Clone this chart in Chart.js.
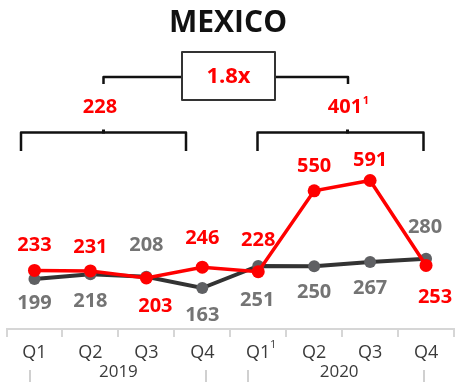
<!DOCTYPE html>
<html>
<head>
<meta charset="utf-8">
<script src="https://cdn.jsdelivr.net/npm/chart.js@4/dist/chart.umd.min.js"></script>
<style>
  html, body { margin: 0; padding: 0; background: #ffffff; }
  canvas { display: block; }
</style>
</head>
<body>
<canvas id="c" width="461" height="382"></canvas>
<script>
// Quarterly figures, Mexico
const quarters = ['Q1', 'Q2', 'Q3', 'Q4', 'Q1', 'Q2', 'Q3', 'Q4'];
const years = ['2019', '2020'];
const current = [233, 231, 203, 246, 228, 550, 591, 253];
const previous = [199, 218, 208, 163, 251, 250, 267, 280];
const avg2019 = '228';
const avg2020 = '401';
const growth = '1.8x';

// Where each value label sits relative to its point: [dx, dy]
const currentLabelOffset = [[0, -25], [0, -24], [9, 28], [0, -29], [0, -31], [0, -25], [0, -20], [9, 32]];
const previousLabelOffset = [[0, 24], [0, 27], [0, -31], [0, 27], [-1, 34], [0, 26], [0, 26], [-1, -31]];

const RED = '#ff0000';
const DARK = '#333333';
const GREY_PT = '#5f6063';
const GREY_TXT = '#747474';
const FONT = '"Open Sans", "Noto Sans", sans-serif';

const valueLabels = {
  id: 'valueLabels',
  afterDatasetsDraw(chart) {
    const ctx = chart.ctx;
    ctx.save();
    ctx.textAlign = 'center';
    ctx.textBaseline = 'middle';
    ctx.font = 'bold 20px ' + FONT;
    const sets = [
      { idx: 0, values: previous, offs: previousLabelOffset, color: GREY_TXT },
      { idx: 1, values: current, offs: currentLabelOffset, color: RED }
    ];
    sets.forEach(s => {
      const meta = chart.getDatasetMeta(s.idx);
      meta.data.forEach((pt, i) => {
        ctx.fillStyle = s.color;
        ctx.fillText(String(s.values[i]), pt.x + s.offs[i][0], pt.y + s.offs[i][1]);
      });
    });
    ctx.restore();
  }
};

const decorations = {
  id: 'decorations',
  afterDraw(chart) {
    const ctx = chart.ctx;
    const xs = chart.scales.x;
    ctx.save();

    // Title
    ctx.fillStyle = '#111111';
    ctx.textAlign = 'center';
    ctx.textBaseline = 'middle';
    ctx.font = 'bold 30px ' + FONT;
    ctx.fillText('MEXICO', 228, 23);

    // Year brackets over the two halves
    ctx.strokeStyle = '#111111';
    ctx.lineWidth = 2.5;
    ctx.lineJoin = 'round';
    const brackets = [
      { l: 21, r: 186, mid: 103.5 },
      { l: 257.5, r: 423.5, mid: 347.5 }
    ];
    brackets.forEach(b => {
      ctx.beginPath();
      ctx.moveTo(b.l, 151);
      ctx.lineTo(b.l, 132.5);
      ctx.lineTo(b.r, 132.5);
      ctx.lineTo(b.r, 151);
      ctx.stroke();
      ctx.fillStyle = '#111111';
      ctx.fillRect(b.mid - 1.5, 129.5, 3, 4);
    });

    // Connector between the two averages
    ctx.beginPath();
    ctx.moveTo(103.5, 84);
    ctx.lineTo(103.5, 77);
    ctx.lineTo(348, 77);
    ctx.lineTo(348, 84);
    ctx.stroke();

    // Growth box
    ctx.fillStyle = '#ffffff';
    ctx.fillRect(182, 52, 93, 48);
    ctx.strokeStyle = '#333333';
    ctx.lineWidth = 2;
    ctx.strokeRect(182, 52, 93, 48);
    ctx.fillStyle = RED;
    ctx.font = 'bold 22px ' + FONT;
    ctx.fillText(growth, 228.5, 77);

    // Averages
    ctx.font = 'bold 20px ' + FONT;
    ctx.fillText(avg2019, 100, 107);
    ctx.fillText(avg2020, 345, 107);
    ctx.font = 'bold 11px ' + FONT;
    ctx.fillText('1', 366, 101);

    // Footnote marker on the first 2020 quarter
    ctx.fillStyle = '#3a3a3a';
    ctx.font = '11px ' + FONT;
    ctx.fillText('1', xs.getPixelForValue(4) + 15, 345);

    // Year labels under the quarters
    ctx.font = '17px ' + FONT;
    ctx.fillText(years[0], (xs.getPixelForValue(1) + xs.getPixelForValue(2)) / 2, 372);
    ctx.fillText(years[1], (xs.getPixelForValue(5) + xs.getPixelForValue(6)) / 2 - 3, 372);

    // Faint year bracket sides
    ctx.strokeStyle = '#d0d0d0';
    ctx.lineWidth = 2;
    [30, 206, 248, 424].forEach(x => {
      ctx.beginPath();
      ctx.moveTo(x, 370);
      ctx.lineTo(x, 382);
      ctx.stroke();
    });

    ctx.restore();
  }
};

new Chart(document.getElementById('c'), {
  type: 'line',
  data: {
    labels: quarters,
    datasets: [
      {
        label: 'Previous',
        data: previous,
        borderColor: DARK,
        borderWidth: 4,
        backgroundColor: GREY_PT,
        pointBackgroundColor: GREY_PT,
        pointBorderColor: GREY_PT,
        pointRadius: 6,
        pointBorderWidth: 0,
        tension: 0,
        clip: false,
        order: 2
      },
      {
        label: 'Current',
        data: current,
        borderColor: RED,
        borderWidth: 3.5,
        backgroundColor: RED,
        pointBackgroundColor: RED,
        pointBorderColor: RED,
        pointRadius: 6.5,
        pointBorderWidth: 0,
        tension: 0,
        clip: false,
        order: 1
      }
    ]
  },
  options: {
    responsive: false,
    animation: false,
    devicePixelRatio: 1,
    layout: { padding: { top: 128, left: 6, right: 7, bottom: 0 } },
    plugins: {
      legend: { display: false },
      tooltip: { enabled: false },
      title: { display: false }
    },
    scales: {
      x: {
        offset: true,
        afterFit(scale) { scale.height = 53; },
        grid: {
          offset: true,
          drawOnChartArea: false,
          drawTicks: true,
          tickLength: 8,
          color: '#d6d6d6',
          lineWidth: 2
        },
        border: { display: true, color: '#d6d6d6', width: 2 },
        ticks: {
          color: '#3a3a3a',
          font: { family: FONT, size: 18 },
          padding: 5,
          maxRotation: 0,
          autoSkip: false
        }
      },
      y: {
        display: false,
        min: 0,
        max: 800
      }
    }
  },
  plugins: [valueLabels, decorations]
});
</script>
</body>
</html>
